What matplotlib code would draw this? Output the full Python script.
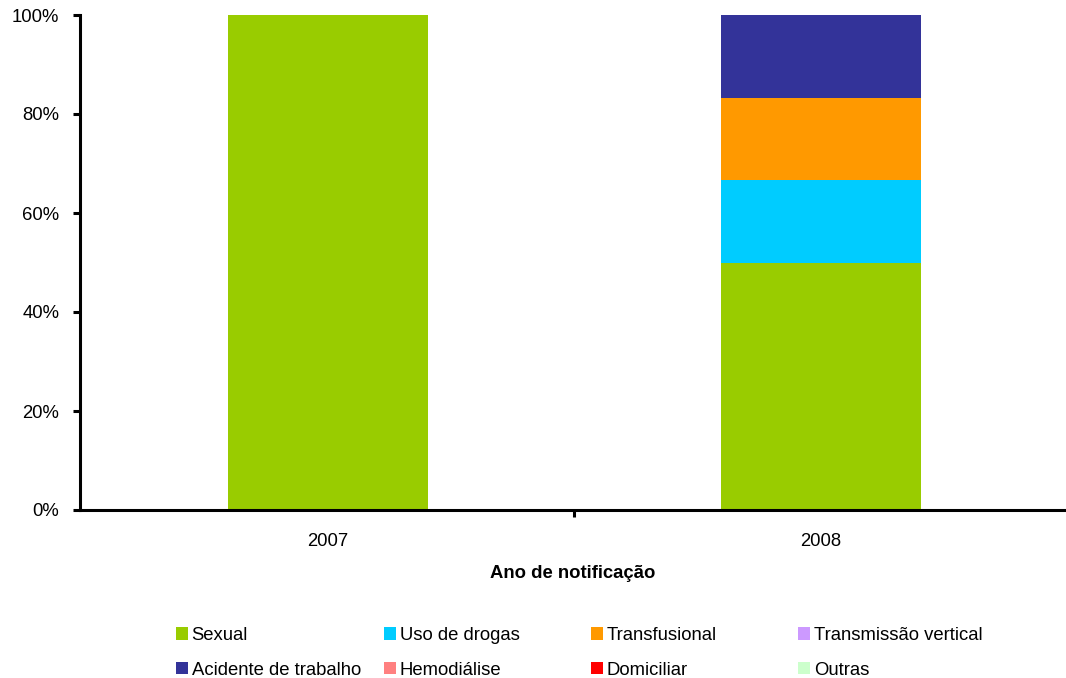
import numpy as np
import matplotlib
matplotlib.use("Agg")
import matplotlib.pyplot as plt
from matplotlib.patches import Patch
from matplotlib.ticker import FixedLocator, PercentFormatter

plt.rcParams['font.family'] = ['Liberation Sans', 'DejaVu Sans']

# cases per year by route of transmission
years = ['2007', '2008']
categories = ['Sexual', 'Uso de drogas', 'Transfusional', 'Transmissão vertical',
              'Acidente de trabalho', 'Hemodiálise', 'Domiciliar', 'Outras']
counts = {
    'Sexual': [1, 3],
    'Uso de drogas': [0, 1],
    'Transfusional': [0, 1],
    'Transmissão vertical': [0, 0],
    'Acidente de trabalho': [0, 1],
    'Hemodiálise': [0, 0],
    'Domiciliar': [0, 0],
    'Outras': [0, 0],
}
colors = ['#99CC00', '#00CCFF', '#FF9900', '#CC99FF',
          '#333399', '#FF8080', '#FF0000', '#CCFFCC']

FS = 13.3
totals = np.sum([counts[c] for c in categories], axis=0)

fig = plt.figure(figsize=(10.66, 6.78), dpi=100)
ax = fig.add_axes([80 / 1066, 1 - 510 / 678, 986 / 1066, 495 / 678])

x = np.arange(len(years))
bottom = np.zeros(len(years))
for cat, col in zip(categories, colors):
    share = np.array(counts[cat]) / totals * 100
    ax.bar(x, share, width=0.406, bottom=bottom, color=col, linewidth=0)
    bottom += share

ax.set_xlim(-0.503, 1.497)
ax.set_ylim(0, 100)
ax.set_yticks(np.arange(0, 101, 20))
ax.yaxis.set_major_formatter(PercentFormatter(decimals=0))
ax.set_xticks(x)
ax.set_xticklabels(years)
ax.xaxis.set_minor_locator(FixedLocator([0.5]))

for side in ['top', 'right']:
    ax.spines[side].set_visible(False)
for side in ['left', 'bottom']:
    ax.spines[side].set_linewidth(2.2)

ax.tick_params(axis='y', direction='out', length=5, width=2.2, labelsize=FS, pad=10)
ax.tick_params(axis='x', which='major', length=0, labelsize=FS, pad=16.5)
ax.tick_params(axis='x', which='minor', direction='out', length=5, width=2.2)
ax.set_xlabel('Ano de notificação', fontsize=FS, fontweight='bold', labelpad=10.5)

# legend: four fixed-width columns, two rows
col_x = [176, 384, 591, 798]
for i, cx in enumerate(col_x):
    idx = [i, i + 4]
    handles = [Patch(facecolor=colors[j], edgecolor='none') for j in idx]
    labels = [categories[j] for j in idx]
    fig.legend(handles, labels, loc='upper left',
               bbox_to_anchor=(cx / 1066, 1 - 627 / 678),
               frameon=False, fontsize=FS, borderpad=0, borderaxespad=0,
               handlelength=0.65, handleheight=0.65, handletextpad=0.2,
               labelspacing=0.96)

fig.savefig('out.png', dpi=100)
